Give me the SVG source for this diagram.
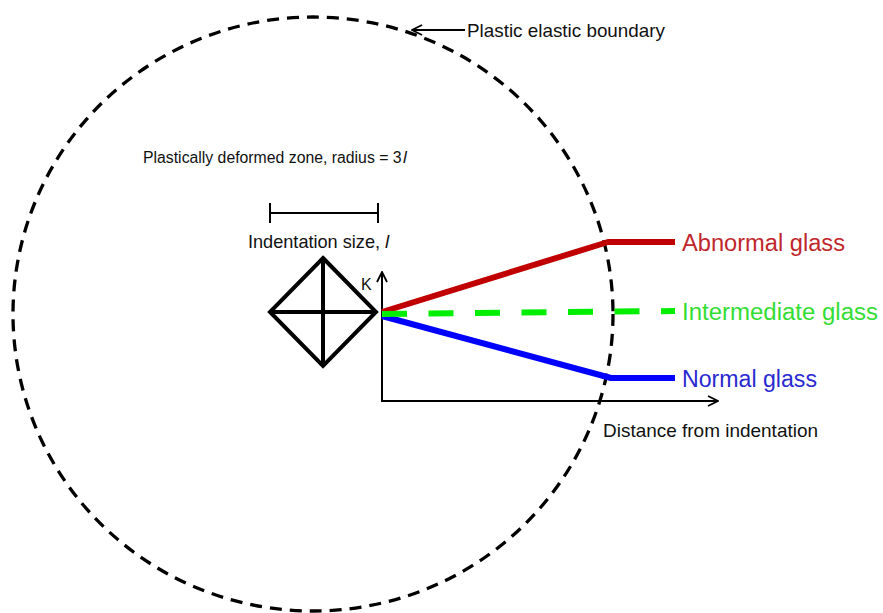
<svg xmlns="http://www.w3.org/2000/svg" width="883" height="613" viewBox="0 0 883 613">
<style>
text{font-family:"Liberation Sans",Arial,sans-serif;fill:#111}
.lbl{font-size:18.5px}
.big{font-size:23.5px}
.it{font-style:italic}
.ax{stroke:#000;stroke-width:2;fill:none}
</style>
<defs>
<marker id="open" viewBox="0 0 12 12" refX="11" refY="6" markerWidth="12" markerHeight="12" markerUnits="userSpaceOnUse" orient="auto">
<path d="M1,1 L11,6 L1,11" fill="none" stroke="#000" stroke-width="1.8"/>
</marker>
</defs>
<rect width="883" height="613" fill="#fff"/>
<g id="boundary">
<ellipse cx="313" cy="314" rx="300" ry="297" fill="none" stroke="#000" stroke-width="3.3" stroke-dasharray="12 8"/>
</g>
<g id="boundary-label">
<line x1="465" y1="30" x2="412" y2="30" class="ax" stroke-width="1.5" marker-end="url(#open)"/>
<text class="lbl" x="467" y="37" textLength="198" lengthAdjust="spacingAndGlyphs">Plastic elastic boundary</text>
</g>
<g id="zone-label">
<text x="143" y="163" font-size="15.8px">Plastically deformed zone, radius = 3</text>
<text class="it" x="403" y="163" font-size="17px">l</text>
</g>
<g id="scale-bar">
<line x1="270" y1="213" x2="378" y2="213" class="ax"/>
<line x1="270" y1="203" x2="270" y2="223" class="ax"/>
<line x1="378" y1="203" x2="378" y2="223" class="ax"/>
<text class="lbl" x="248" y="248" textLength="132" lengthAdjust="spacingAndGlyphs">Indentation size,</text>
<text class="lbl it" x="385" y="248">l</text>
</g>
<g id="indent" stroke="#000" stroke-width="4" fill="none" stroke-linejoin="miter">
<path d="M323,258 L376,312 L323,366 L270,312 Z"/>
<line x1="323" y1="258" x2="323" y2="366"/>
<line x1="270" y1="312" x2="376" y2="312"/>
</g>
<g id="axes">
<line x1="382" y1="401" x2="382" y2="272" class="ax" marker-end="url(#open)"/>
<line x1="381" y1="401" x2="718" y2="401" class="ax" marker-end="url(#open)"/>
<text x="361" y="290" font-size="16px">K</text>
<text class="lbl" x="603" y="437" textLength="215" lengthAdjust="spacingAndGlyphs">Distance from indentation</text>
</g>
<g id="connectors" fill="none" stroke-width="6">
<polyline points="382,312 608,242 675,242" stroke="#c00000" stroke-linejoin="round"/>
<polyline points="382,316 611,378 675,378" stroke="#0000ff" stroke-linejoin="round"/>
<line x1="382" y1="314" x2="675" y2="311" stroke="#00ee00" stroke-dasharray="25 21.5"/>
</g>
<g id="abnormal">
<text class="big" x="682" y="251" style="fill:#c0272d" textLength="163" lengthAdjust="spacingAndGlyphs">Abnormal glass</text>
</g>
<g id="intermediate">
<text class="big" x="682" y="320" style="fill:#33dd33" textLength="196" lengthAdjust="spacingAndGlyphs">Intermediate glass</text>
</g>
<g id="normal">
<text class="big" x="682" y="387" style="fill:#2a2ad0" textLength="135" lengthAdjust="spacingAndGlyphs">Normal glass</text>
</g>
</svg>
